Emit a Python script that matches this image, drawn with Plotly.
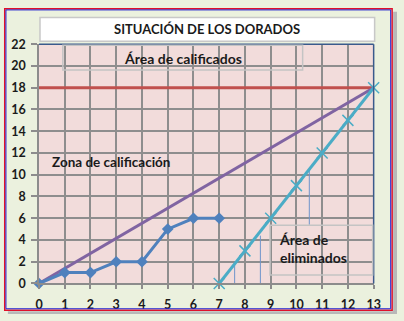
import plotly.graph_objects as go

# ---------------- data ----------------
dorados_x = [0, 1, 2, 3, 4, 5, 6, 7]
dorados_y = [0, 1, 1, 2, 2, 5, 6, 6]

referencia_x = [0, 13]
referencia_y = [0, 18]

clasificacion_x = [0, 13]
clasificacion_y = [18, 18]

eliminados_x = [7, 8, 9, 10, 11, 12, 13]
eliminados_y = [0, 3, 6, 9, 12, 15, 18]

guia_x = [7.6, 8.6, 10.5]
guia_y0 = [0, 0, 5.4]
guia_y1 = [1.8, 4.4, 10.5]

x_ticks = list(range(0, 14))
y_ticks = list(range(0, 23, 2))

title_text = "SITUACIÓN DE LOS DORADOS"
label_calificados = "Área de calificados"
label_zona = "Zona de calificación"
label_eliminados = "Área de<br>eliminados"

# ---------------- figure ----------------
W, H = 404, 321
FONT = "Lato"


def px(x):
    return x / W


def py(y):
    return 1 - y / H


fig = go.Figure()

fig.add_trace(go.Scatter(x=clasificacion_x, y=clasificacion_y, mode="lines",
                         line=dict(color="#C0504D", width=3), cliponaxis=False,
                         hoverinfo="skip"))
fig.add_trace(go.Scatter(x=referencia_x, y=referencia_y, mode="lines",
                         line=dict(color="#8064A2", width=3), cliponaxis=False,
                         hoverinfo="skip"))

for gx, g0, g1 in zip(guia_x, guia_y0, guia_y1):
    fig.add_trace(go.Scatter(x=[gx, gx], y=[g0, g1], mode="lines",
                             line=dict(color="#6F94CB", width=1),
                             hoverinfo="skip"))

fig.add_trace(go.Scatter(x=dorados_x, y=dorados_y, mode="lines+markers",
                         line=dict(color="#4F81BD", width=3),
                         marker=dict(symbol="diamond", size=9, color="#4F81BD"),
                         cliponaxis=False))
fig.add_trace(go.Scatter(x=eliminados_x, y=eliminados_y, mode="lines+markers",
                         line=dict(color="#4BACC6", width=3),
                         marker=dict(symbol="x-thin", size=11,
                                     line=dict(color="#4BACC6", width=1.5)),
                         cliponaxis=False))

x_dom = [px(36), px(380)]
y_dom = [py(289), py(38)]

tickfont = dict(family=FONT, size=12.5, color="#1A1A1A", weight="bold")

fig.update_layout(
    width=W, height=H,
    margin=dict(l=0, r=0, t=0, b=0),
    paper_bgcolor="#EBF1DE",
    plot_bgcolor="#F2DCDB",
    showlegend=False,
    font=dict(family=FONT, color="#1A1A1A"),
    xaxis=dict(domain=x_dom, range=[0, 13], tickvals=x_ticks,
               showgrid=True, gridcolor="#8E8E8E", gridwidth=1.5,
               showline=True, linecolor="#8C8C8C", linewidth=1.5,
               ticks="outside", ticklen=4, tickcolor="#8C8C8C", tickwidth=1.5,
               ticklabelstandoff=5,
               tickfont=tickfont, zeroline=False, fixedrange=True),
    yaxis=dict(domain=y_dom, range=[0, 22], tickvals=y_ticks,
               showgrid=True, gridcolor="#8E8E8E", gridwidth=1.5,
               showline=True, linecolor="#8C8C8C", linewidth=1.5,
               ticks="outside", ticklen=6, tickcolor="#8C8C8C", tickwidth=1.5,
               ticklabelstandoff=3,
               tickfont=tickfont, zeroline=False, fixedrange=True),
)

shapes = []
# plot-area border top and right (dark blue)
shapes.append(dict(type="line", xref="paper", yref="paper",
                   x0=px(36), x1=px(380), y0=py(38), y1=py(38),
                   line=dict(color="#3A5A8C", width=1.5)))
shapes.append(dict(type="line", xref="paper", yref="paper",
                   x0=px(380), x1=px(380), y0=py(38), y1=py(289),
                   line=dict(color="#3A5A8C", width=1.5)))
# title box
shapes.append(dict(type="rect", xref="paper", yref="paper",
                   x0=px(37), x1=px(381), y0=py(35), y1=py(10),
                   fillcolor="white", line=dict(color="#C8C8C8", width=1.5),
                   layer="below"))
# text boxes
shapes.append(dict(type="rect", xref="paper", yref="paper",
                   x0=px(60.5), x1=px(307), y0=py(65), y1=py(39),
                   fillcolor="rgba(0,0,0,0)", line=dict(color="#C4C4C4", width=1.5)))
shapes.append(dict(type="rect", xref="paper", yref="paper",
                   x0=px(273.5), x1=px(379), y0=py(280), y1=py(228),
                   fillcolor="rgba(0,0,0,0)", line=dict(color="#C4C4C4", width=1.5)))
# outer frame
shapes.append(dict(type="rect", xref="paper", yref="paper",
                   x0=px(0.75), x1=px(399), y0=py(317), y1=py(0.75),
                   fillcolor="rgba(0,0,0,0)", line=dict(color="#E0102A", width=1.5)))
shapes.append(dict(type="rect", xref="paper", yref="paper",
                   x0=px(2), x1=px(397.5), y0=py(315.5), y1=py(2),
                   fillcolor="rgba(0,0,0,0)", line=dict(color="#2020D0", width=1)))
# shadow
shapes.append(dict(type="rect", xref="paper", yref="paper",
                   x0=px(400), x1=px(404), y0=py(321), y1=py(4),
                   fillcolor="#B8B8B8", line=dict(width=0)))
shapes.append(dict(type="rect", xref="paper", yref="paper",
                   x0=px(4), x1=px(404), y0=py(321), y1=py(318),
                   fillcolor="#B8B8B8", line=dict(width=0)))
fig.update_layout(shapes=shapes)

annotations = [
    dict(text=title_text, x=px(209), y=py(22.5), xref="paper", yref="paper",
         showarrow=False, xanchor="center", yanchor="middle",
         font=dict(family=FONT, size=13, color="#1A1A1A", weight="bold")),
    dict(text=label_calificados, x=px(184), y=py(53), xref="paper", yref="paper",
         showarrow=False, xanchor="center", yanchor="middle",
         font=dict(family=FONT, size=14, color="#1A1A1A", weight="bold")),
    dict(text=label_zona, x=px(47), y=py(162), xref="paper", yref="paper",
         showarrow=False, xanchor="left", yanchor="middle",
         font=dict(family=FONT, size=13.5, color="#1A1A1A", weight="bold")),
    dict(text=label_eliminados, x=px(281), y=py(252), xref="paper", yref="paper",
         showarrow=False, xanchor="left", yanchor="middle", align="left",
         font=dict(family=FONT, size=14, color="#1A1A1A", weight="bold")),
]
fig.update_layout(annotations=annotations)

fig.write_html("out.html")
